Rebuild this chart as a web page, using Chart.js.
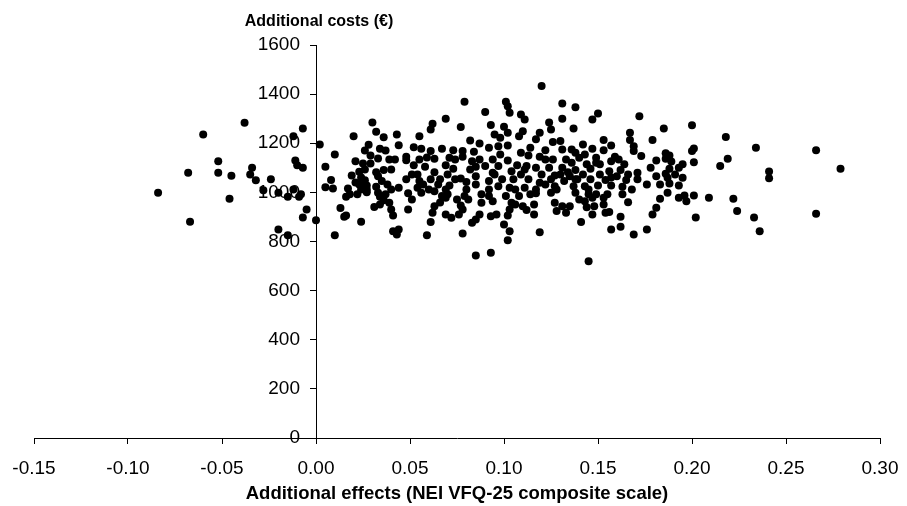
<!DOCTYPE html>
<html>
<head>
<meta charset="utf-8">
<script src="https://cdn.jsdelivr.net/npm/chart.js@4.4.1/dist/chart.umd.min.js"></script>
<style>
  html, body { margin: 0; padding: 0; background: #ffffff; }
  #wrap { width: 907px; height: 506px; }
</style>
</head>
<body>
<div id="wrap"><canvas id="plane" width="907" height="506"></canvas></div>
<script>
// Bootstrap replicates: incremental effect (x) and incremental cost (y)
const effects = [
  -0.084,-0.068,-0.067,-0.060,-0.052,-0.052,-0.046,-0.045,-0.038,-0.034,
  -0.035,-0.032,-0.024,-0.028,-0.020,-0.015,-0.012,-0.012,-0.007,-0.011,
  -0.010,-0.007,-0.009,-0.008,-0.005,-0.007,-0.020,-0.015,0.000,0.002,

  0.010,0.005,0.008,0.005,0.009,0.013,0.015,0.016,0.010,0.020,
  0.030,0.032,0.036,0.043,0.044,0.028,0.026,0.029,0.034,0.037,
  0.033,0.039,0.021,0.025,0.026,0.023,0.032,0.036,0.040,0.033,
  0.026,0.023,0.027,0.024,0.022,0.027,0.017,0.018,0.016,0.032,
  0.035,0.038,0.033,0.034,0.036,0.039,0.031,0.040,0.041,0.044,
  0.024,0.041,0.043,0.044,

  0.079,0.090,0.069,0.062,0.061,0.077,0.055,0.082,0.087,0.052,
  0.056,0.061,0.067,0.073,0.078,0.084,0.048,0.048,0.055,0.063,
  0.071,0.078,0.083,0.087,0.052,0.058,0.069,0.073,0.085,0.063,
  0.054,0.070,0.077,0.085,0.048,0.055,0.061,0.065,0.071,0.080,
  0.085,0.054,0.060,0.049,0.056,0.063,0.067,0.070,0.079,0.088,
  0.069,0.063,0.077,0.081,0.049,0.062,0.069,0.072,0.076,0.078,
  0.087,0.085,0.083,0.061,0.088,0.059,0.078,0.085,

  0.120,0.101,0.102,0.131,0.103,0.109,0.111,0.131,0.093,0.100,
  0.124,0.125,0.110,0.095,0.102,0.098,0.108,0.119,0.117,0.126,
  0.130,0.092,0.097,0.102,0.114,0.122,0.131,0.109,0.113,0.119,
  0.094,0.102,0.126,0.133,0.090,0.097,0.107,0.112,0.117,0.124,
  0.131,0.094,0.104,0.109,0.120,0.127,0.134,0.092,0.099,0.105,
  0.113,0.119,0.125,0.132,0.097,0.103,0.111,0.117,0.127,0.092,
  0.101,0.108,0.117,0.125,0.094,0.104,0.110,0.116,0.127,0.131,
  0.103,0.112,0.128,0.133,0.093,0.096,0.102,0.100,0.103,0.102,
  0.119,0.093,0.145,

  0.138,0.150,0.147,0.172,0.137,0.167,0.167,0.153,0.157,0.142,
  0.169,0.179,0.147,0.153,0.169,0.173,0.138,0.140,0.149,0.159,
  0.161,0.157,0.149,0.136,0.144,0.138,0.146,0.156,0.162,0.178,
  0.171,0.142,0.151,0.160,0.135,0.171,0.139,0.146,0.154,0.165,
  0.176,0.137,0.143,0.150,0.157,0.163,0.168,0.138,0.145,0.149,
  0.155,0.163,0.140,0.147,0.153,0.166,0.143,0.135,0.148,0.147,
  0.154,0.156,0.162,0.179,0.141,0.162,0.157,0.169,0.176,

  0.185,0.200,0.218,0.186,0.188,0.186,0.201,0.200,0.219,0.181,
  0.201,0.195,0.193,0.215,0.188,0.186,0.187,0.195,0.181,0.188,
  0.193,0.187,0.183,0.193,0.196,0.197,0.201,0.209,0.222,0.181,
  0.202,0.224,0.234,0.266,0.241,0.241,0.279,0.233,0.236,0.266,

  0.021,0.027,0.024,0.034,0.037,0.040,0.029,0.042,0.019,0.051,
  0.057,0.066,0.069,0.075,0.080,0.074,0.059,0.082,0.051,0.066,
  0.074,0.095,0.106,0.114,0.122,0.128,0.098,0.111,0.122,0.106,
  0.092,0.116,0.130,0.136,0.143,0.138,0.145,0.151,0.157,0.164,
  0.153,0.144,0.166,0.183,0.191,0.189
];

const costs = [
  998,1080,880,1236,1127,1080,974,1068,1283,1100,
  1073,1049,1053,1009,998,982,1012,1229,1260,1130,
  1110,1100,982,992,930,898,849,825,887,1195,

  1154,1104,1050,1021,1016,936,901,906,825,1229,
  1284,1247,1224,1236,1192,1194,1170,1150,1178,1170,
  1138,1134,1127,1118,1093,1084,1082,1091,1093,1066,
  1049,1032,1028,1012,992,1001,1016,992,982,1023,
  1046,1032,998,982,968,958,940,930,906,1019,
  880,842,829,849,

  1369,1327,1300,1279,1256,1266,1229,1211,1199,1184,
  1178,1168,1178,1172,1168,1165,1145,1131,1134,1137,
  1141,1145,1127,1134,1110,1104,1110,1096,1104,1082,
  1073,1073,1056,1066,1053,1046,1053,1032,1028,1042,
  1032,1019,1012,996,998,1005,985,992,985,992,
  978,944,947,971,930,917,910,897,910,930,
  910,890,876,879,958,825,833,743,

  1433,1369,1351,1362,1324,1317,1297,1300,1274,1267,
  1284,1256,1249,1236,1243,1222,1229,1243,1216,1205,
  1209,1182,1188,1191,1182,1172,1175,1161,1150,1145,
  1134,1130,1134,1134,1107,1107,1110,1107,1100,1100,
  1100,1080,1086,1073,1073,1069,1082,1046,1053,1053,
  1053,1039,1053,1046,1025,1019,1019,1012,1025,985,
  985,985,996,998,964,958,944,951,958,944,
  930,928,924,917,903,910,906,869,842,805,
  838,754,720,

  1347,1321,1297,1310,1260,1243,1213,1213,1191,1195,
  1188,1213,1178,1172,1168,1148,1161,1141,1141,1145,
  1134,1127,1121,1121,1114,1091,1096,1086,1091,1100,
  1080,1073,1073,1066,1066,1053,1053,1053,1050,1050,
  1032,1025,1025,1028,1028,1023,1012,998,992,992,
  992,992,971,978,978,960,964,944,944,910,
  917,920,901,910,879,860,849,829,849,

  1260,1273,1225,1159,1150,1137,1179,1168,1137,1130,
  1123,1114,1100,1107,1096,1076,1060,1060,1066,1036,
  1028,998,974,978,987,964,987,978,974,937,
  898,924,1182,1171,1085,1058,1096,898,842,913,

  1040,1012,1061,951,992,1012,1118,1134,1069,1073,
  1032,1053,1012,971,1012,1134,1142,1093,971,959,
  1053,1073,1012,992,1032,1012,1154,1093,1134,951,
  1012,910,1073,1175,1154,1053,1012,1114,1061,1114,
  951,939,1073,1032,1073,1126
];

const xTicks = [-0.15, -0.10, -0.05, 0.00, 0.05, 0.10, 0.15, 0.20, 0.25, 0.30];
const yTicks = [0, 200, 400, 600, 800, 1000, 1200, 1400, 1600];

const costTitle = 'Additional costs (€)';
const effectTitle = 'Additional effects (NEI VFQ-25 composite scale)';

const FONT = '"Liberation Sans", Arial, sans-serif';

const points = effects.map((e, i) => ({ x: e, y: costs[i] }));

// The cost axis crosses the effect axis at zero effect: once the layout is
// known, move the vertical scale box so that its right edge sits on that
// pixel; ticks and labels are then drawn to the left of the crossing line.
const crossAtZero = {
  id: 'crossAtZero',
  afterLayout(chart) {
    const y = chart.scales.y;
    const x0 = chart.scales.x.getPixelForValue(0);
    y.right = x0;
    y.left = x0 - 90;
    y.width = 90;
    y._gridLineItems = null;
    y._labelItems = null;
  },
  afterDraw(chart) {
    const ctx = chart.ctx;
    const x0 = chart.scales.x.getPixelForValue(0);
    ctx.save();
    ctx.font = 'bold 16px ' + FONT;
    ctx.fillStyle = '#000000';
    ctx.textAlign = 'center';
    ctx.textBaseline = 'middle';
    ctx.fillText(costTitle, x0 + 3, 22);
    ctx.restore();
  }
};

new Chart(document.getElementById('plane'), {
  type: 'scatter',
  data: {
    datasets: [{
      data: points,
      pointRadius: 4,
      pointHoverRadius: 4,
      pointBackgroundColor: '#000000',
      pointBorderColor: '#000000',
      pointBorderWidth: 0
    }]
  },
  options: {
    responsive: false,
    animation: false,
    devicePixelRatio: 1,
    layout: { padding: { left: 34, right: 27, top: 45, bottom: 0 } },
    plugins: {
      legend: { display: false },
      tooltip: { enabled: false }
    },
    scales: {
      x: {
        type: 'linear',
        position: 'bottom',
        min: -0.15,
        max: 0.30,
        afterBuildTicks: s => { s.ticks = xTicks.map(v => ({ value: v })); },
        afterFit: s => { s.height = 68; s.paddingLeft = 0; s.paddingRight = 0; },
        ticks: {
          autoSkip: false,
          maxRotation: 0,
          color: '#000000',
          padding: 13,
          font: { family: FONT, size: 19 },
          callback: v => Number(v).toFixed(2)
        },
        grid: { drawOnChartArea: false, drawTicks: true, tickLength: 6, color: '#000000', tickColor: '#000000' },
        border: { display: true, color: '#000000', width: 1 },
        title: {
          display: true,
          text: effectTitle,
          color: '#000000',
          font: { family: FONT, size: 18.5, weight: 'bold' },
          padding: { top: 0, bottom: 1 }
        }
      },
      y: {
        type: 'linear',
        position: 'left',
        min: 0,
        max: 1600,
        afterBuildTicks: s => { s.ticks = yTicks.map(v => ({ value: v })); },
        afterFit: s => { s.width = 0; s.paddingTop = 0; s.paddingBottom = 0; },
        ticks: {
          autoSkip: false,
          color: '#000000',
          padding: 10,
          font: { family: FONT, size: 19 },
          callback: v => String(v)
        },
        grid: { drawOnChartArea: false, drawTicks: true, tickLength: 6, color: '#000000', tickColor: '#000000' },
        border: { display: true, color: '#000000', width: 1 }
      }
    }
  },
  plugins: [crossAtZero]
});
</script>
</body>
</html>
